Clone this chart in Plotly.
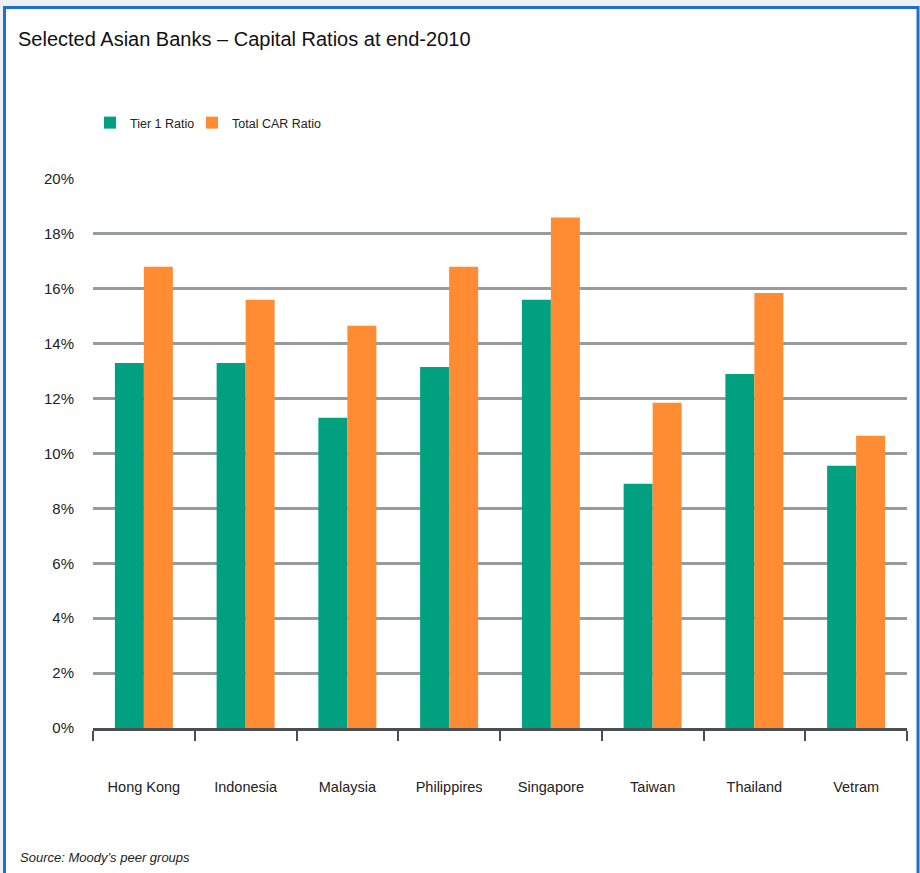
import plotly.graph_objects as go

countries = ["Hong Kong", "Indonesia", "Malaysia", "Philippires", "Singapore", "Taiwan", "Thailand", "Vetram"]
tier1 = [13.3, 13.3, 11.3, 13.15, 15.6, 8.9, 12.9, 9.55]
total_car = [16.8, 15.6, 14.65, 16.8, 18.6, 11.85, 15.85, 10.65]
ytick_vals = [0, 2, 4, 6, 8, 10, 12, 14, 16, 18, 20]
ytick_text = ["0%", "2%", "4%", "6%", "8%", "10%", "12%", "14%", "16%", "18%", "20%"]

FONT = "Liberation Sans, Arial, sans-serif"
W, H = 920, 873
L, R, T, B = 93, 13, 179, 145
PW, PH = W - L - R, H - T - B

def px(x):
    return (x - L) / PW

def py(y):
    return (H - B - y) / PH

fig = go.Figure()
fig.add_trace(go.Bar(name="Tier 1 Ratio", x=countries, y=tier1, legend="legend", showlegend=True,
                     marker=dict(color="#00a080", line=dict(width=0))))
fig.add_trace(go.Bar(name="Total CAR Ratio", x=countries, y=total_car, legend="legend2", showlegend=True,
                     marker=dict(color="#ff8c33", line=dict(width=0))))

legend_common = dict(orientation="h", xanchor="left", yanchor="middle", y=py(123),
                     font=dict(family=FONT, size=12.5, color="#222222"),
                     bgcolor="rgba(0,0,0,0)", itemsizing="constant")

fig.update_layout(
    width=W, height=H,
    showlegend=True,
    margin=dict(l=L, r=R, t=T, b=B, pad=0),
    paper_bgcolor="#eef0f3",
    plot_bgcolor="rgba(0,0,0,0)",
    barmode="group",
    bargap=0.43,
    bargroupgap=0,
    font=dict(family=FONT, color="#222222", size=15),
    title=dict(text="Selected Asian Banks – Capital Ratios at end-2010",
               x=18 / W, xanchor="left", xref="container",
               y=1 - 39 / H, yanchor="middle",
               font=dict(family=FONT, size=20, color="#111111")),
    legend=dict(x=px(90), **legend_common),
    legend2=dict(x=px(192), **legend_common),
    xaxis=dict(showgrid=False, showline=True, linecolor="#4a4f55", linewidth=3,
               ticks="outside", tickson="boundaries", ticklen=10, tickwidth=2, tickcolor="#4a4f55",
               ticklabelstandoff=44, tickfont=dict(family=FONT, size=14.5, color="#222222"),
               zeroline=False),
    yaxis=dict(range=[0, 20], tickvals=ytick_vals, ticktext=ytick_text,
               showgrid=True, gridcolor="#969ba0", gridwidth=2.5, zeroline=False,
               showline=False, ticks="", ticklabelstandoff=18,
               tickfont=dict(family=FONT, size=15, color="#222222")),
    shapes=[dict(type="rect", xref="paper", yref="paper", layer="below",
                 x0=px(4.5), x1=px(918), y0=py(885), y1=py(7.5),
                 fillcolor="white", line=dict(color="#1f6fd0", width=3))],
    annotations=[dict(text="<i>Source: Moody’s peer groups</i>", xref="paper", yref="paper",
                      x=px(18), y=py(857), xanchor="left", yanchor="middle", showarrow=False,
                      font=dict(family=FONT, size=13, color="#222222"))],
)

fig.write_html("out.html", config={"displayModeBar": False},
               post_script="document.body.style.margin='0';document.body.style.overflow='hidden';")
